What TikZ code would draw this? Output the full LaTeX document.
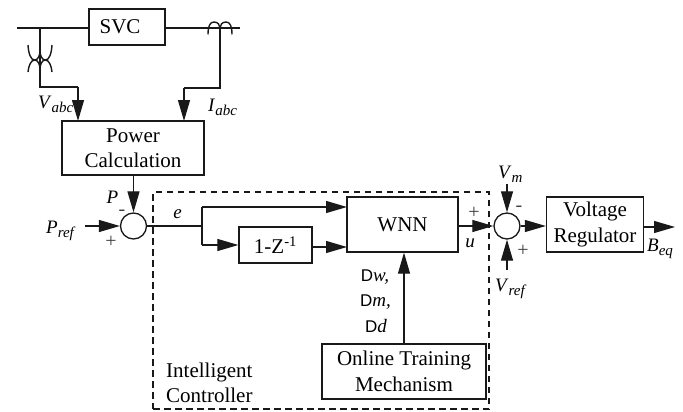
\documentclass[tikz,border=0pt]{standalone}
\usepackage{fontspec}
\setmainfont{Liberation Serif}
\newfontfamily\dsans{Liberation Sans}
\usetikzlibrary{arrows.meta}
\tikzset{
  x=1pt,y=-1pt,
  blk/.style={draw=black!90,line width=1.3pt,rectangle,inner sep=0pt,align=center,font=\fontsize{21}{25.5}\selectfont},
  sumc/.style={draw=black!90,line width=1.3pt,circle,minimum size=26pt,inner sep=0pt},
  wire/.style={line width=1.2pt,draw=black!90},
  arr/.style={wire,-{Triangle[length=21pt,width=12pt]}},
  lab/.style={inner sep=0pt,font=\fontsize{19}{22}\selectfont},
  txt/.style={inner sep=0pt,font=\fontsize{21}{25}\selectfont},
  sgn/.style={inner sep=0pt,font=\fontsize{20}{22}\selectfont,text=black!75},
}
\newcommand{\blkat}[6]{\node[blk,minimum width=#4 pt,minimum height=#5 pt] (#1) at (#2,#3) {#6};}
\newcommand{\sbs}[1]{\raisebox{-4pt}{\fontsize{15}{18}\selectfont\textit{#1}}}
\begin{document}
\begin{tikzpicture}
\useasboundingbox (0,0) rectangle (683,412);
% boxes
\blkat{svc}{127}{27}{76}{36}{SVC\hspace{14pt}}
\blkat{pc}{133}{148}{142}{54}{Power\\Calculation}
\blkat{dz}{275.5}{245}{73}{36}{1-Z\textsuperscript{-1}}
\blkat{wnn}{402.5}{224.5}{111}{55}{WNN}
\blkat{vr}{595}{224.5}{97}{55}{Voltage\\Regulator}
\blkat{otm}{404}{371.5}{164}{55}{Online Training\\Mechanism}
\node[sumc] (s1) at (133.5,226) {};
\node[sumc] (s2) at (507,226) {};
% dashed frame
\node[draw=black!90,line width=1.3pt,dash pattern=on 6.5pt off 4.5pt,rectangle,minimum width=336pt,minimum height=217pt,inner sep=0pt] (frame) at (321,300.5) {};
% coordinates
\coordinate (busL) at (17,28);
\coordinate (busR) at (240,28);
\coordinate (tapL) at (40,28);
\coordinate (tapLb) at (40,87);
\coordinate (tapLc) at (78,87);
\coordinate (tapLd) at (78,121);
\coordinate (tapR) at (220,28);
\coordinate (tapRb) at (220,88);
\coordinate (tapRc) at (184,88);
\coordinate (tapRd) at (184,121);
\coordinate (pin) at (85,226);
\coordinate (bj) at (202,226);
\coordinate (bjt) at (202,207);
\coordinate (bjb) at (202,245);
\coordinate (wt) at (347,207);
\coordinate (wb) at (347,247);
\coordinate (dzo) at (312,247);
\coordinate (vm) at (507,184);
\coordinate (vref) at (507,270);
\coordinate (out) at (675,227);
\coordinate (vro) at (643.5,227);
% bus
\draw[wire] (busL) -- (svc.west |- busL);
\draw[wire] (svc.east |- busR) -- (busR);
% voltage tap
\draw[wire] (tapL) -- (tapLb) -- (tapLc);
\draw[arr] (tapLc) -- (tapLd);
% voltage transformer
\draw[wire,line width=1.4pt] (28,45) .. controls (28.5,54) and (31,60) .. (34.5,60) .. controls (38,60) and (40,56) .. (40,50);
\draw[wire,line width=1.4pt] (52,45) .. controls (51.5,54) and (49,60) .. (45.5,60) .. controls (42,60) and (40,56) .. (40,50);
\draw[wire,line width=1.4pt] (28,72) .. controls (28.5,66) and (31,60) .. (34.5,60) .. controls (38,60) and (40,64) .. (40,70);
\draw[wire,line width=1.4pt] (52,72) .. controls (51.5,66) and (49,60) .. (45.5,60) .. controls (42,60) and (40,64) .. (40,70);
% current tap
\draw[wire] (tapR) -- (tapRb) -- (tapRc);
\draw[arr] (tapRc) -- (tapRd);
\draw[wire,line width=1.4pt] (208,34.5) .. controls (208,26) and (210,22) .. (214,22) .. controls (218,22) and (220,25) .. (220,28) .. controls (220,25) and (222,22) .. (226,22) .. controls (230,22) and (232,26) .. (232,34.5);
% main arrows
\draw[arr] (pc.south -| s1) -- (s1.north);
\draw[arr] (pin) -- (s1.west);
\draw[wire] (s1.east) -- (bj);
\draw[wire] (bjt) -- (bjb);
\draw[arr] (bjt) -- (wt);
\draw[arr] (bjb) -- (dz.west |- bjb);
\draw[arr] (dzo) -- (wb);
\draw[arr] (wnn.east |- s2) -- (s2.west);
\draw[arr] (s2.east) -- (vr.west |- s2);
\draw[arr] (vm) -- (s2.north);
\draw[arr] (vref) -- (s2.south);
\draw[arr] (vro) -- (out);
\draw[arr] (otm.north) -- (wnn.south -| otm);
% labels
\node[lab,anchor=base west] (lv) at (38,108) {\textit{V}\sbs{abc}};
\node[lab,anchor=base west] (li) at (208,111) {\textit{I}\sbs{abc}};
\node[lab,anchor=base] (lp) at (112.5,203) {\textit{P}};
\node[sgn] (mp) at (122,213) {-};
\node[sgn] (pp) at (111,242) {+};
\node[lab,anchor=base west] (lpr) at (46,233) {\textit{P}\sbs{ref}};
\node[lab,anchor=base] (le) at (177.5,218) {\textit{e}};
\node[sgn] (pw) at (474,213) {+};
\node[lab,anchor=base] (lu) at (470,247) {\textit{u}};
\node[lab,anchor=base west] (lvm) at (498,178) {\textit{V}\sbs{m}};
\node[sgn] (mm) at (519,209) {-};
\node[sgn] (pr) at (523,251) {+};
\node[lab,anchor=base west] (lvr) at (495,291) {\textit{V}\sbs{ref}};
\node[lab,anchor=base west] (lb) at (647,251) {\textit{B}\sbs{eq}};
\node[lab,anchor=base] (dw) at (375,281) {{\dsans\fontsize{17}{20}\selectfont D}\textit{w,}};
\node[lab,anchor=base] (dm) at (375.5,306) {{\dsans\fontsize{17}{20}\selectfont D}\textit{m,}};
\node[lab,anchor=base] (dd) at (376,332) {{\dsans\fontsize{17}{20}\selectfont D}\textit{d}};
\node[txt,anchor=base west] (ic) at (166,377) {Intelligent};
\node[txt,anchor=base west] (cc) at (166,402) {Controller};
\end{tikzpicture}
\end{document}
